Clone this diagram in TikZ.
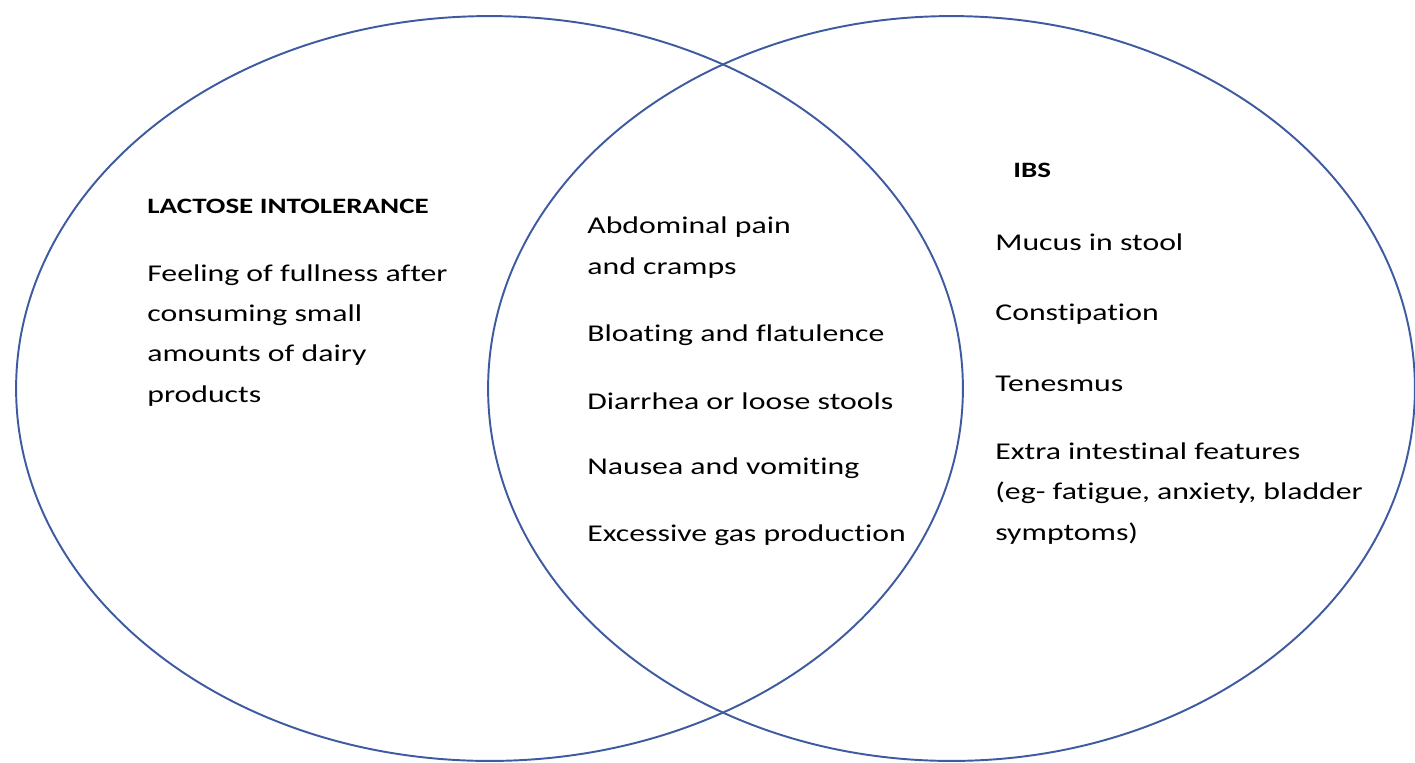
\documentclass[tikz,border=0pt]{standalone}
\usepackage{fontspec}
\setmainfont{Carlito}[FakeStretch=1.32, Ligatures=NoCommon]
\usetikzlibrary{shapes.geometric}
\definecolor{vennblue}{RGB}{62,90,160}
\begin{document}
\begin{tikzpicture}[
    x=0.02cm, y=-0.02cm,
    set/.style={ellipse, draw=vennblue, line width=1.1pt, inner sep=0pt},
    head/.style={font=\fontsize{12.5}{15}\selectfont\bfseries, anchor=base west, inner sep=0pt},
    item/.style={font=\fontsize{13.7}{22.8}\selectfont, anchor=base west, inner sep=0pt, align=left}
]
\useasboundingbox (0,0) rectangle (1415,762);

% the two sets
\node[set, minimum width=18.94cm, minimum height=14.9cm] (lactose) at (489.5,388.5) {};
\node[set, minimum width=18.54cm, minimum height=14.9cm] (ibs) at (951.5,388.5) {};

% lactose intolerance only (base = last line)
\node[head] (lihead) at (147,213) {LACTOSE INTOLERANCE};
\node[item] (fullness) at (147,402) {Feeling of fullness after\\consuming small\\amounts of dairy\\products};

% shared symptoms
\node[item] (pain) at (587,274) {Abdominal pain\\and cramps};
\node[item] (bloat) at (587,341) {Bloating and flatulence};
\node[item] (diarr) at (587,409) {Diarrhea or loose stools};
\node[item] (nausea) at (587,474) {Nausea and vomiting};
\node[item] (gas) at (587,541) {Excessive gas production};

% IBS only
\node[head] (ibshead) at (1013,177) {IBS};
\node[item] (mucus) at (995,250) {Mucus in stool};
\node[item] (constip) at (995,320) {Constipation};
\node[item] (tenes) at (995,391) {Tenesmus};
\node[item] (extra) at (995,540) {Extra intestinal features\\(eg- fatigue, anxiety, bladder\\symptoms)};
\end{tikzpicture}
\end{document}
